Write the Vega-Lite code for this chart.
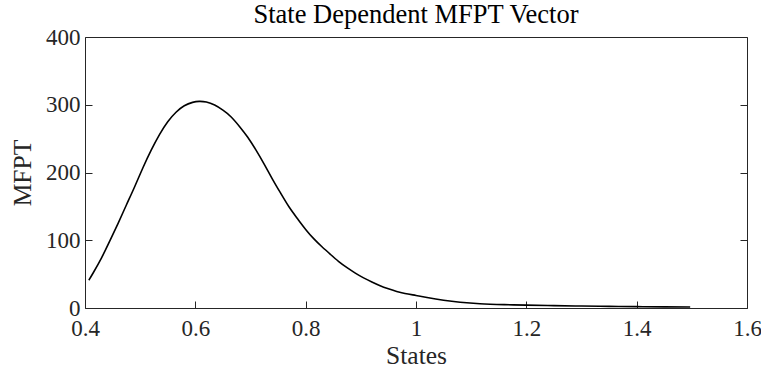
{
  "$schema": "https://vega.github.io/schema/vega-lite/v6.json",
  "width": 662,
  "height": 271,
  "autosize": {"type": "none"},
  "padding": {"left": 85, "top": 37, "right": 14, "bottom": 61},
  "background": "white",
  "title": {
    "text": "State Dependent MFPT Vector",
    "font": "Liberation Serif",
    "fontSize": 26.5,
    "fontWeight": "normal",
    "color": "#000000",
    "anchor": "middle",
    "offset": -2
  },
  "config": {
    "view": {"stroke": null},
    "axis": {
      "grid": false,
      "labelFont": "Liberation Serif",
      "labelFontSize": 23,
      "labelColor": "#262626",
      "labelFlush": false,
      "labelOverlap": false,
      "titleFont": "Liberation Serif",
      "titleFontSize": 25.5,
      "titleFontWeight": "normal",
      "titleColor": "#262626",
      "domainColor": "#262626",
      "domainWidth": 1,
      "tickColor": "#262626",
      "tickWidth": 1,
      "tickSize": -7
    }
  },
  "data": {
    "values": [
      {"state": 0.407, "mfpt": 41},
      {"state": 0.415, "mfpt": 52},
      {"state": 0.43, "mfpt": 74},
      {"state": 0.445, "mfpt": 99},
      {"state": 0.46, "mfpt": 125},
      {"state": 0.475, "mfpt": 152},
      {"state": 0.49, "mfpt": 179},
      {"state": 0.505, "mfpt": 207},
      {"state": 0.52, "mfpt": 233},
      {"state": 0.535, "mfpt": 256},
      {"state": 0.55, "mfpt": 275},
      {"state": 0.565, "mfpt": 289},
      {"state": 0.58, "mfpt": 298.5},
      {"state": 0.595, "mfpt": 303.5},
      {"state": 0.607, "mfpt": 305},
      {"state": 0.62, "mfpt": 304},
      {"state": 0.635, "mfpt": 299.5},
      {"state": 0.65, "mfpt": 292},
      {"state": 0.665, "mfpt": 282},
      {"state": 0.68, "mfpt": 268},
      {"state": 0.695, "mfpt": 252},
      {"state": 0.71, "mfpt": 233},
      {"state": 0.725, "mfpt": 212},
      {"state": 0.74, "mfpt": 190},
      {"state": 0.755, "mfpt": 169},
      {"state": 0.77, "mfpt": 149},
      {"state": 0.785, "mfpt": 132},
      {"state": 0.8, "mfpt": 116},
      {"state": 0.815, "mfpt": 102},
      {"state": 0.83, "mfpt": 90},
      {"state": 0.845, "mfpt": 79},
      {"state": 0.86, "mfpt": 68.5},
      {"state": 0.875, "mfpt": 59.5},
      {"state": 0.89, "mfpt": 51.5},
      {"state": 0.905, "mfpt": 44.5},
      {"state": 0.92, "mfpt": 38.5},
      {"state": 0.935, "mfpt": 33},
      {"state": 0.95, "mfpt": 28.5},
      {"state": 0.965, "mfpt": 24.5},
      {"state": 0.98, "mfpt": 21.5},
      {"state": 1.0, "mfpt": 18.5},
      {"state": 1.02, "mfpt": 15.5},
      {"state": 1.05, "mfpt": 11.5},
      {"state": 1.08, "mfpt": 8.5},
      {"state": 1.116, "mfpt": 6.3},
      {"state": 1.16, "mfpt": 5},
      {"state": 1.2, "mfpt": 4.2},
      {"state": 1.25, "mfpt": 3.5},
      {"state": 1.3, "mfpt": 2.9},
      {"state": 1.35, "mfpt": 2.4},
      {"state": 1.4, "mfpt": 2},
      {"state": 1.45, "mfpt": 1.7},
      {"state": 1.497, "mfpt": 1.5}
    ]
  },
  "resolve": {"axis": {"x": "independent", "y": "independent"}},
  "layer": [
    {
      "mark": {"type": "line", "color": "#000000", "strokeWidth": 1.6, "interpolate": "natural"},
      "encoding": {
        "x": {
          "field": "state",
          "type": "quantitative",
          "scale": {"domain": [0.4, 1.6], "nice": false, "zero": false},
          "axis": {
            "orient": "bottom",
            "values": [0.4, 0.6, 0.8, 1, 1.2, 1.4, 1.6],
            "format": "~g",
            "labelPadding": 16,
            "title": "States",
            "titlePadding": 3
          }
        },
        "y": {
          "field": "mfpt",
          "type": "quantitative",
          "scale": {"domain": [0, 400], "nice": false},
          "axis": {
            "orient": "left",
            "values": [0, 100, 200, 300, 400],
            "labelPadding": 12,
            "title": "MFPT",
            "titlePadding": 10
          }
        }
      }
    },
    {
      "mark": {"type": "line", "strokeOpacity": 0},
      "encoding": {
        "x": {
          "field": "state",
          "type": "quantitative",
          "axis": {
            "orient": "top",
            "ticks": false,
            "labels": false,
            "title": null
          }
        },
        "y": {
          "field": "mfpt",
          "type": "quantitative",
          "axis": {
            "orient": "right",
            "values": [0, 100, 200, 300, 400],
            "labels": false,
            "title": null
          }
        }
      }
    }
  ]
}
